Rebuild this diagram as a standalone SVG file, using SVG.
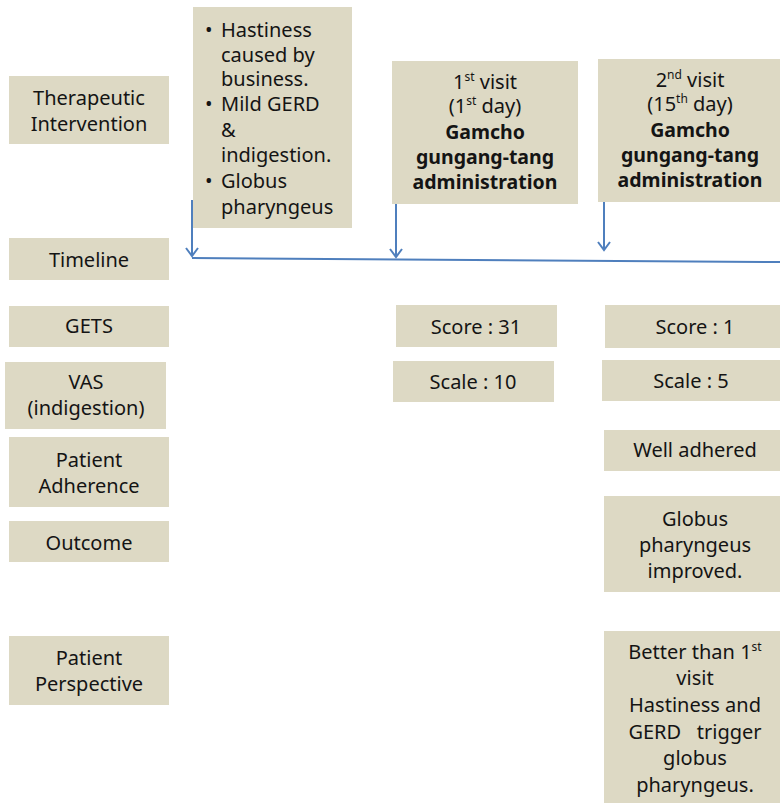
<svg xmlns="http://www.w3.org/2000/svg" width="780" height="803" viewBox="0 0 780 803">
<style>
.box{fill:#ddd9c4}
text{font-family:"Noto Sans","Open Sans","Liberation Sans",sans-serif;font-size:20px;fill:#141414}
.c{text-anchor:middle}
.b{font-weight:bold;font-size:19.5px}
.ln{stroke:#4f7fbd;stroke-width:2;fill:none}
</style>
<rect width="780" height="803" fill="#ffffff"/>
<g id="lbl-therapeutic"><rect class="box" x="9" y="76" width="160" height="68"/><text class="c" x="89" y="105">Therapeutic</text><text class="c" x="89" y="131">Intervention</text></g>
<g id="lbl-timeline"><rect class="box" x="9" y="238" width="160" height="42"/><text class="c" x="89" y="267">Timeline</text></g>
<g id="lbl-gets"><rect class="box" x="9" y="306" width="160" height="41"/><text class="c" x="89" y="333">GETS</text></g>
<g id="lbl-vas"><rect class="box" x="5" y="362" width="161" height="67"/><text class="c" x="86" y="389">VAS</text><text class="c" x="86" y="415">(indigestion)</text></g>
<g id="lbl-adherence"><rect class="box" x="9" y="437" width="160" height="70"/><text class="c" x="89" y="467">Patient</text><text class="c" x="89" y="493">Adherence</text></g>
<g id="lbl-outcome"><rect class="box" x="9" y="521" width="160" height="41"/><text class="c" x="89" y="550">Outcome</text></g>
<g id="lbl-perspective"><rect class="box" x="9" y="636" width="160" height="69"/><text class="c" x="89" y="665">Patient</text><text class="c" x="89" y="691">Perspective</text></g>

<g id="symptoms"><rect class="box" x="193" y="7" width="159" height="221"/>
<text x="205" y="37">•</text><text x="221" y="37">Hastiness</text>
<text x="221" y="62">caused by</text>
<text x="221" y="86">business.</text>
<text x="205" y="111">•</text><text x="221" y="111">Mild GERD</text>
<text x="221" y="137">&amp;</text>
<text x="221" y="162">indigestion.</text>
<text x="205" y="188">•</text><text x="221" y="188">Globus</text>
<text x="221" y="214">pharyngeus</text>
</g>

<g id="visit1"><rect class="box" x="392" y="61" width="186" height="143"/>
<text class="c" x="485" y="89">1<tspan font-size="12" baseline-shift="super">st</tspan> visit</text>
<text class="c" x="485" y="113">(1<tspan font-size="12" baseline-shift="super">st</tspan> day)</text>
<text class="c b" x="485" y="139">Gamcho</text>
<text class="c b" x="485" y="164">gungang-tang</text>
<text class="c b" x="485" y="189">administration</text>
</g>
<g id="visit2"><rect class="box" x="598" y="59" width="182" height="143"/>
<text class="c" x="690" y="87">2<tspan font-size="12" baseline-shift="super">nd</tspan> visit</text>
<text class="c" x="690" y="111">(15<tspan font-size="12" baseline-shift="super">th</tspan> day)</text>
<text class="c b" x="690" y="137">Gamcho</text>
<text class="c b" x="690" y="162">gungang-tang</text>
<text class="c b" x="690" y="187">administration</text>
</g>

<g id="connectors">
<path class="ln" d="M192 258 L780 262"/>
<path class="ln" d="M192 200 V256 M186 248 L192 256 L198 248"/>
<path class="ln" d="M396 204 V257 M390 249 L396 257 L402 249"/>
<path class="ln" d="M604 202 V250 M598 242 L604 250 L610 242"/>
</g>

<g id="gets1"><rect class="box" x="396" y="305" width="161" height="42"/><text class="c" x="476" y="334">Score : 31</text></g>
<g id="vas1"><rect class="box" x="393" y="361" width="161" height="41"/><text class="c" x="473" y="389">Scale : 10</text></g>
<g id="gets2"><rect class="box" x="605" y="305" width="175" height="43"/><text class="c" x="695" y="334">Score : 1</text></g>
<g id="vas2"><rect class="box" x="602" y="360" width="178" height="41"/><text class="c" x="691" y="388">Scale : 5</text></g>
<g id="adherence2"><rect class="box" x="604" y="430" width="176" height="41"/><text class="c" x="695" y="457">Well adhered</text></g>
<g id="outcome2"><rect class="box" x="604" y="496" width="176" height="96"/>
<text class="c" x="695" y="526">Globus</text><text class="c" x="695" y="552">pharyngeus</text><text class="c" x="695" y="578">improved.</text></g>
<g id="perspective2"><rect class="box" x="604" y="631" width="176" height="172"/>
<text class="c" x="695" y="659">Better than 1<tspan font-size="12" baseline-shift="super">st</tspan></text>
<text class="c" x="695" y="685">visit</text>
<text class="c" x="695" y="712">Hastiness and</text>
<text class="c" x="695" y="739" xml:space="preserve">GERD   trigger</text>
<text class="c" x="695" y="765">globus</text>
<text class="c" x="695" y="792">pharyngeus.</text>
</g>
</svg>
